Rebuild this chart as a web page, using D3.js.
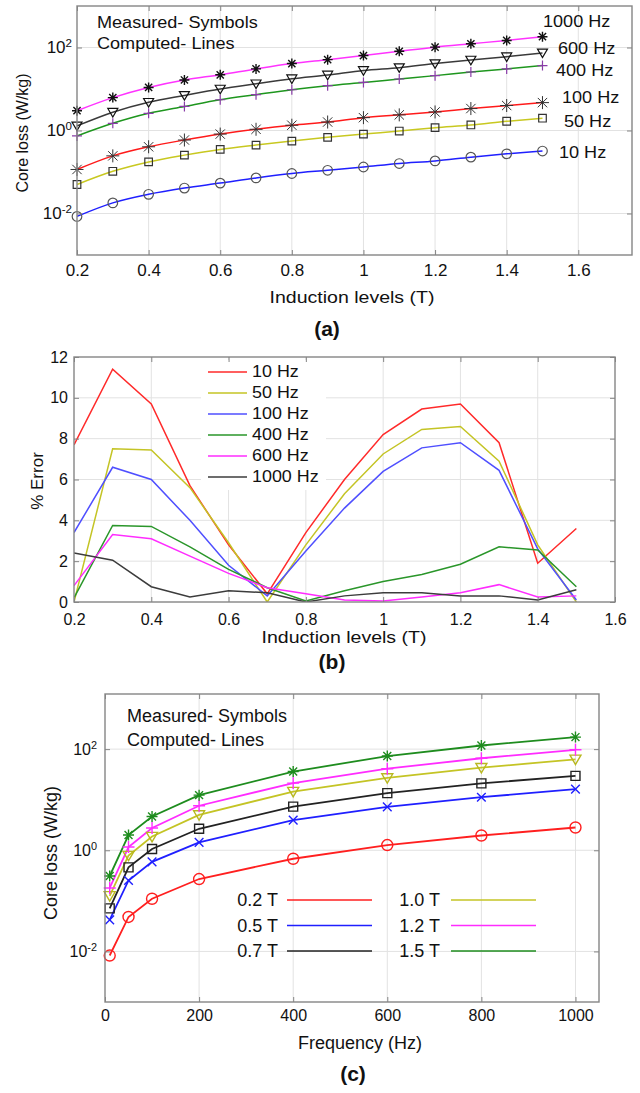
<!DOCTYPE html>
<html>
<head>
<meta charset="utf-8">
<script src="https://cdn.jsdelivr.net/npm/d3@7"></script>
<style>
  body { margin: 0; background: #fff; }
  text { font-family: "Liberation Sans", Arial, sans-serif; fill: #111; }
</style>
</head>
<body>
<script>
// ---- data, panel (a): core loss vs induction, one array per frequency
const inductionT = [0.2, 0.3, 0.4, 0.5, 0.6, 0.7, 0.8, 0.9, 1.0, 1.1, 1.2, 1.3, 1.4, 1.5];
const lossA10Hz   = [0.0085, 0.018, 0.029, 0.041, 0.054, 0.072, 0.092, 0.11, 0.132, 0.16, 0.185, 0.228, 0.274, 0.32];
const lossA50Hz   = [0.05, 0.104, 0.175, 0.255, 0.35, 0.445, 0.556, 0.684, 0.82, 0.97, 1.17, 1.36, 1.67, 1.98];
const lossA100Hz  = [0.115, 0.245, 0.405, 0.59, 0.82, 1.07, 1.34, 1.6, 2.04, 2.38, 2.8, 3.38, 4.0, 4.7];
const lossA400Hz  = [0.74, 1.49, 2.6, 3.8, 5.5, 7.3, 9.6, 12, 14.4, 17.4, 21, 25.7, 30.5, 36.6];
const lossA600Hz  = [1.29, 2.76, 4.8, 7.0, 10, 13.4, 17.7, 21.8, 28, 32.7, 41, 50, 60, 74];
const lossA1000Hz = [3.0, 6.2, 10.9, 16.5, 22, 30.5, 41, 51, 64, 81, 102, 123, 148, 182];
const freqLabelsA = ["10 Hz", "50 Hz", "100 Hz", "400 Hz", "600 Hz", "1000 Hz"];

// ---- data, panel (b): % error
const err10Hz   = [7.7, 11.4, 9.7, 5.7, 2.8, 0.4, 3.4, 6.0, 8.2, 9.45, 9.7, 7.8, 1.9, 3.6];
const err50Hz   = [0.0, 7.5, 7.45, 5.6, 2.9, 0.0, 2.8, 5.3, 7.25, 8.45, 8.6, 6.9, 2.8, 0.0];
const err100Hz  = [3.4, 6.6, 6.0, 4.0, 1.8, 0.3, 2.5, 4.6, 6.4, 7.55, 7.8, 6.45, 2.6, 0.1];
const err400Hz  = [0.2, 3.75, 3.7, 2.7, 1.6, 0.7, 0.05, 0.55, 1.0, 1.35, 1.85, 2.7, 2.55, 0.75];
const err600Hz  = [0.8, 3.3, 3.1, 2.25, 1.4, 0.7, 0.4, 0.1, 0.05, 0.25, 0.45, 0.85, 0.25, 0.3];
const err1000Hz = [2.4, 2.05, 0.75, 0.25, 0.55, 0.45, 0.0, 0.3, 0.45, 0.45, 0.3, 0.3, 0.1, 0.6];

// ---- data, panel (c): core loss vs frequency, one array per induction
const frequencyHz = [10, 50, 100, 200, 400, 600, 800, 1000];
const lossC02T = [0.0083, 0.048, 0.11, 0.27, 0.68, 1.27, 1.96, 2.82];
const lossC05T = [0.042, 0.253, 0.59, 1.43, 3.95, 7.2, 11.2, 16.2];
const lossC07T = [0.071, 0.46, 1.06, 2.66, 7.3, 13.5, 21, 29.6];
const lossC10T = [0.126, 0.79, 1.87, 5.0, 14.5, 27, 43, 63];
const lossC12T = [0.18, 1.16, 2.75, 7.6, 21.3, 41, 66, 97];
const lossC15T = [0.31, 2.0, 4.65, 12.3, 36, 73, 118, 173];
const inductionLabelsC = ["0.2 T", "0.5 T", "0.7 T", "1.0 T", "1.2 T", "1.5 T"];

const xTicksT = [0.2, 0.4, 0.6, 0.8, 1, 1.2, 1.4, 1.6];
const yTicksErr = [0, 2, 4, 6, 8, 10, 12];
const xTicksHz = [0, 200, 400, 600, 800, 1000];
const logTicks = [1e-2, 1, 1e2];

const W = 640, H = 1093;
const svg = d3.select("body").append("svg").attr("width", W).attr("height", H);

const GRID = "#e2e2e2", FRAME = "#858585";

// marker shapes
function marker(type, s) {
  const a = s * 0.72;
  switch (type) {
    case "star": return `M${-s},0H${s}M0,${-s}V${s}M${-a},${-a}L${a},${a}M${-a},${a}L${a},${-a}`;
    case "plus": return `M${-s},0H${s}M0,${-s}V${s}`;
    case "cross": return `M${-a},${-a}L${a},${a}M${-a},${a}L${a},${-a}`;
    case "square": return `M${-s},${-s}H${s}V${s}H${-s}Z`;
    case "tri": return `M${-s},${-s * 0.75}H${s}L0,${s * 0.95}Z`;
    case "circle": return d3.arc()({innerRadius: 0, outerRadius: s, startAngle: 0, endAngle: 2 * Math.PI});
  }
}

function stext(g, x, y, str, o = {}) {
  const t = g.append("text")
    .attr("transform", `translate(${x},${y}) rotate(${o.rot || 0}) scale(${o.sx || 1},1)`)
    .attr("font-size", o.size || 16)
    .attr("text-anchor", o.anchor || "start")
    .attr("dominant-baseline", o.base || "central")
    .text(str);
  if (o.weight) t.attr("font-weight", o.weight);
  if (o.family) t.attr("font-family", o.family);
  return t;
}

function pow10(d) {
  return Math.round(Math.log10(d));
}

// light grid inside a panel
function drawBox(g, x, y, o) {
  const [x0, x1] = x.range(), [y0, y1] = y.range();
  g.append("g").selectAll("line").data(o.xt.filter(v => x(v) > x0 + 1 && x(v) < x1 - 1)).join("line")
    .attr("x1", d => x(d)).attr("x2", d => x(d)).attr("y1", y1).attr("y2", y0)
    .attr("stroke", GRID);
  g.append("g").selectAll("line").data(o.yt.filter(v => y(v) < y0 - 1 && y(v) > y1 + 1)).join("line")
    .attr("y1", d => y(d)).attr("y2", d => y(d)).attr("x1", x0).attr("x2", x1)
    .attr("stroke", GRID);
}

// frame with inward ticks on all four sides
function drawFrame(g, x, y, o) {
  const [x0, x1] = x.range(), [y0, y1] = y.range();
  const bottom = g.append("g").attr("transform", `translate(0,${y0})`)
    .call(d3.axisBottom(x).tickValues(o.xt).tickSize(-5).tickPadding(o.xpad).tickFormat(o.xf));
  const top = g.append("g").attr("transform", `translate(0,${y1})`)
    .call(d3.axisTop(x).tickValues(o.xt).tickSize(-5).tickFormat(""));
  const left = g.append("g").attr("transform", `translate(${x0},0)`)
    .call(d3.axisLeft(y).tickValues(o.yt).tickSize(-5).tickPadding(o.ypad).tickFormat(o.log ? "" : d3.format("d")));
  const right = g.append("g").attr("transform", `translate(${x1},0)`)
    .call(d3.axisRight(y).tickValues(o.yt).tickSize(-5).tickFormat(""));
  for (const a of [bottom, top, left, right]) {
    a.select(".domain").remove();
    a.selectAll("line").attr("stroke", FRAME);
    a.selectAll("text").attr("font-size", o.fs).attr("fill", "#111")
      .attr("font-family", "'Liberation Sans', Arial, sans-serif");
  }
  if (o.log) {
    left.selectAll(".tick text").each(function (d) {
      const t = d3.select(this);
      t.text("10");
      t.append("tspan").attr("dy", "-0.55em").attr("font-size", o.fs * 0.68).text(pow10(d));
    });
  }
  g.append("rect").attr("x", x0).attr("y", y1).attr("width", x1 - x0).attr("height", y0 - y1)
    .attr("fill", "none").attr("stroke", FRAME).attr("stroke-width", 1.4);
}

function drawMarks(g, x, y, xs, ys, s) {
  g.append("g").selectAll("path").data(ys.map((v, i) => [xs[i], v])).join("path")
    .attr("transform", d => `translate(${x(d[0])},${y(d[1])})`)
    .attr("d", marker(s.mk, s.ms))
    .attr("fill", "none").attr("stroke", s.mc).attr("stroke-width", s.mw || 1.2);
}

// ===================== panel (a)
{
  const g = svg.append("g");
  const x = d3.scaleLinear().domain([0.2, 1.75]).range([77, 632]);
  const y = d3.scaleLog().domain([1e-3, 1e3]).range([255, 6]);
  const series = [
    {v: lossA10Hz,   c: "#1f1fff", mk: "circle", ms: 4.8, mc: "#555"},
    {v: lossA50Hz,   c: "#c8c820", mk: "square", ms: 3.8, mc: "#333"},
    {v: lossA100Hz,  c: "#ff1a1a", mk: "star",   ms: 6.5, mc: "#333", mw: 1},
    {v: lossA400Hz,  c: "#1e961e", mk: "plus",   ms: 5,   mc: "#8a3ca8"},
    {v: lossA600Hz,  c: "#3a3a3a", mk: "tri",    ms: 5,   mc: "#111"},
    {v: lossA1000Hz, c: "#ff33ff", mk: "star",   ms: 5,   mc: "#111", mw: 1.4}
  ];
  drawBox(g, x, y, {xt: xTicksT, yt: logTicks});
  const line = d3.line().x((d, i) => x(inductionT[i])).y(d => y(d)).curve(d3.curveMonotoneX);
  for (const s of series) {
    g.append("path").attr("d", line(s.v)).attr("fill", "none").attr("stroke", s.c).attr("stroke-width", 1.5);
  }
  for (const s of series) drawMarks(g, x, y, inductionT, s.v, s);
  drawFrame(g, x, y, {xt: xTicksT, yt: logTicks, xpad: 9, ypad: 5, fs: 17, log: true, xf: d3.format("")});

  stext(g, 97, 23, "Measured- Symbols", {sx: 1.13});
  stext(g, 97, 44, "Computed- Lines", {sx: 1.13});
  const lab = [[559, 153], [564, 122], [562, 98], [556, 71], [558, 49], [543, 22]];
  freqLabelsA.forEach((t, i) => stext(g, lab[i][0], lab[i][1], t, {sx: 1.13}));

  stext(g, 352, 297, "Induction levels (T)", {size: 17, sx: 1.15, anchor: "middle"});
  stext(g, 22, 133, "Core loss (W/kg)", {size: 16, rot: -90, anchor: "middle"});
  stext(g, 327, 328, "(a)", {size: 21, anchor: "middle", weight: "bold", family: "'Liberation Serif', 'Times New Roman', serif"});
}

// ===================== panel (b)
{
  const g = svg.append("g");
  const x = d3.scaleLinear().domain([0.2, 1.6]).range([74, 615]);
  const y = d3.scaleLinear().domain([0, 12]).range([602, 357]);
  const series = [
    {v: err10Hz,   c: "#ff2a2a", name: "10 Hz"},
    {v: err50Hz,   c: "#c4c425", name: "50 Hz"},
    {v: err100Hz,  c: "#4f4fff", name: "100 Hz"},
    {v: err400Hz,  c: "#2a962a", name: "400 Hz"},
    {v: err600Hz,  c: "#ff2cff", name: "600 Hz"},
    {v: err1000Hz, c: "#3c3c3c", name: "1000 Hz"}
  ];
  drawBox(g, x, y, {xt: xTicksT, yt: yTicksErr});
  // legend background hides the grid
  g.append("rect").attr("x", 201).attr("y", 360).attr("width", 125).attr("height", 130).attr("fill", "#fff");
  g.append("clipPath").attr("id", "clipb").append("rect")
    .attr("x", 74).attr("y", 357).attr("width", 541).attr("height", 245);
  const line = d3.line().x((d, i) => x(inductionT[i])).y(d => y(d));
  const lg = g.append("g").attr("clip-path", "url(#clipb)");
  for (const s of series) {
    lg.append("path").attr("d", line(s.v)).attr("fill", "none").attr("stroke", s.c).attr("stroke-width", 1.5);
  }
  drawFrame(g, x, y, {xt: xTicksT, yt: yTicksErr, xpad: 12, ypad: 6, fs: 16, xf: d3.format("")});

  series.forEach((s, i) => {
    const yy = 372 + i * 21;
    g.append("line").attr("x1", 208).attr("x2", 247).attr("y1", yy).attr("y2", yy)
      .attr("stroke", s.c).attr("stroke-width", 1.5);
    stext(g, 252, yy, s.name, {sx: 1.12});
  });

  stext(g, 344, 637, "Induction levels (T)", {size: 17, sx: 1.15, anchor: "middle"});
  stext(g, 37, 481, "% Error", {size: 17, rot: -90, anchor: "middle"});
  stext(g, 332, 661, "(b)", {size: 21, anchor: "middle", weight: "bold", family: "'Liberation Serif', 'Times New Roman', serif"});
}

// ===================== panel (c)
{
  const g = svg.append("g");
  const x = d3.scaleLinear().domain([0, 1050]).range([105, 599]);
  const y = d3.scaleLog().domain([1e-3, Math.pow(10, 3.09)]).range([1002, 694]);
  const series = [
    {v: lossC02T, c: "#ff1f1f", mk: "circle", ms: 5.5, mc: "#ff1f1f", mw: 1.4},
    {v: lossC05T, c: "#1f1fff", mk: "cross",  ms: 6,   mc: "#1f1fff", mw: 1.4},
    {v: lossC07T, c: "#222222", mk: "square", ms: 4.5, mc: "#222", mw: 1.4},
    {v: lossC10T, c: "#c4c425", mk: "tri",    ms: 5.5, mc: "#b8b820", mw: 1.4},
    {v: lossC12T, c: "#ff2cff", mk: "plus",   ms: 6,   mc: "#ff2cff", mw: 1.4},
    {v: lossC15T, c: "#1e8c1e", mk: "star",   ms: 5.5, mc: "#1e8c1e", mw: 1.4}
  ];
  drawBox(g, x, y, {xt: xTicksHz, yt: logTicks});
  const line = d3.line().x((d, i) => x(frequencyHz[i])).y(d => y(d));
  for (const s of series) {
    g.append("path").attr("d", line(s.v)).attr("fill", "none").attr("stroke", s.c).attr("stroke-width", 1.8);
  }
  for (const s of series) drawMarks(g, x, y, frequencyHz, s.v, s);
  drawFrame(g, x, y, {xt: xTicksHz, yt: logTicks, xpad: 8, ypad: 8, fs: 16, log: true, xf: d3.format("d")});

  stext(g, 127, 716, "Measured- Symbols", {size: 18});
  stext(g, 127, 740, "Computed- Lines", {size: 18});

  const cols = [[278, 287, 372], [440, 451, 536]];
  series.forEach((s, i) => {
    const c = cols[Math.floor(i / 3)], yy = 900 + (i % 3) * 25.5;
    stext(g, c[0], yy, inductionLabelsC[i], {size: 18, anchor: "end"});
    g.append("line").attr("x1", c[1]).attr("x2", c[2]).attr("y1", yy).attr("y2", yy)
      .attr("stroke", s.c).attr("stroke-width", 1.6);
  });

  stext(g, 360, 1043, "Frequency (Hz)", {size: 18, anchor: "middle"});
  stext(g, 51, 853, "Core loss (W/kg)", {size: 18, rot: -90, anchor: "middle"});
  stext(g, 353, 1073, "(c)", {size: 21, anchor: "middle", weight: "bold", family: "'Liberation Serif', 'Times New Roman', serif"});
}
</script>
</body>
</html>
